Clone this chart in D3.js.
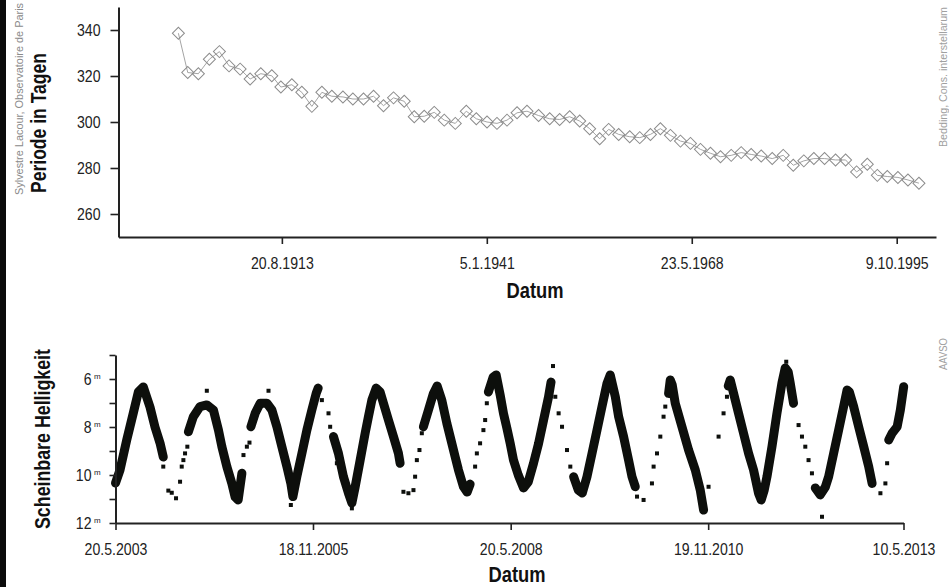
<!DOCTYPE html>
<html>
<head>
<meta charset="utf-8">
<script src="https://cdn.jsdelivr.net/npm/d3@7"></script>
<style>
  body { margin: 0; background: #fff; }
  svg text { font-family: 'Liberation Sans', Arial, sans-serif; }
</style>
</head>
<body>
<div id="chart"></div>
<script>
// --- Periode (oben) ---
const periodYears = [1899.81, 1901.06, 1902.48, 1903.95, 1905.29, 1906.58, 1908.06, 1909.39, 1910.82, 1912.29,
  1913.50, 1914.97, 1916.30, 1917.64, 1918.98, 1920.31, 1921.79, 1923.12, 1924.54, 1925.88,
  1927.21, 1928.55, 1929.98, 1931.32, 1932.65, 1933.99, 1935.33, 1936.80, 1938.27, 1939.61,
  1941.04, 1942.37, 1943.71, 1945.05, 1946.38, 1947.93, 1949.41, 1950.74, 1952.08, 1953.42,
  1954.75, 1956.09, 1957.29, 1958.63, 1960.10, 1961.44, 1962.87, 1964.20, 1965.54, 1966.88,
  1968.22, 1969.55, 1970.89, 1972.23, 1973.66, 1974.99, 1976.33, 1977.67, 1979.14, 1980.61,
  1981.95, 1983.36, 1984.70, 1986.13, 1987.60, 1988.94, 1990.41, 1991.84, 1993.18, 1994.51,
  1995.93, 1997.27, 1998.74];
const periodDays = [338.6, 321.5, 321, 327.3, 330.6, 324.4, 323, 318.7, 321, 320.1,
  315.2, 316.2, 312.9, 306.8, 312.9, 311.2, 310.9, 310, 310, 311.2,
  307.1, 310.5, 309, 302.3, 302.5, 304.2, 300.8, 299.4, 304.7, 301.4,
  300, 299.4, 300.8, 304, 304.7, 302.8, 301.4, 301.1, 302.3, 300.4,
  297.1, 292.7, 296.8, 294.6, 293.6, 293.2, 294.6, 297.1, 294.2, 291.7,
  290.7, 288.1, 286.4, 284.9, 285.5, 286.7, 285.9, 285.2, 284.1, 285.5,
  281.2, 283.1, 284.1, 284.1, 283.5, 283.5, 278.3, 281.6, 276.8, 276.3,
  275.9, 274.8, 273.4];
const periodTicks = [260, 280, 300, 320, 340];
const periodDateTicks = [[1913, 8, 20], [1941, 1, 5], [1968, 5, 23], [1995, 10, 9]];

// --- Helligkeit (unten): dichte Beobachtungsbaender [Jahr, mag] ---
const runA = [[2003.381, 10.33], [2003.438, 9.79], [2003.523, 8.54], [2003.606, 7.42], [2003.670, 6.54],
  [2003.733, 6.33], [2003.818, 7.17], [2003.881, 8.0], [2003.945, 8.67], [2003.986, 9.25]];
const runB = [[2004.303, 8.20], [2004.366, 7.57], [2004.451, 7.15], [2004.536, 7.08], [2004.619, 7.29],
  [2004.683, 8.13], [2004.726, 8.82], [2004.789, 9.65], [2004.852, 10.35], [2004.894, 10.92],
  [2004.932, 11.04], [2004.979, 9.93]];
const runC = [[2005.093, 7.99], [2005.147, 7.43], [2005.211, 7.01], [2005.296, 7.01], [2005.359, 7.29],
  [2005.422, 7.99], [2005.485, 8.82], [2005.549, 9.65], [2005.599, 10.35], [2005.625, 10.90],
  [2005.675, 10.07], [2005.739, 9.10], [2005.802, 8.13], [2005.865, 7.29], [2005.920, 6.60], [2005.945, 6.38]];
const runD = [[2006.139, 8.40], [2006.202, 9.10], [2006.265, 10.07], [2006.329, 10.76], [2006.372, 11.17],
  [2006.414, 10.49], [2006.477, 9.38], [2006.540, 8.26], [2006.582, 7.57], [2006.625, 6.88],
  [2006.680, 6.38], [2006.730, 6.54], [2006.772, 7.01], [2006.835, 7.71], [2006.899, 8.40],
  [2006.962, 9.10], [2006.983, 9.51]];
const runE = [[2007.278, 7.99], [2007.342, 7.29], [2007.405, 6.60], [2007.452, 6.29], [2007.511, 6.88],
  [2007.575, 7.85], [2007.638, 8.68], [2007.680, 9.24], [2007.722, 9.79], [2007.785, 10.49],
  [2007.832, 10.71], [2007.870, 10.38]];
const runF = [[2008.101, 6.54], [2008.161, 5.92], [2008.199, 5.83], [2008.250, 6.67], [2008.291, 7.43],
  [2008.334, 8.04], [2008.376, 8.68], [2008.418, 9.38], [2008.478, 10.0], [2008.545, 10.54],
  [2008.604, 10.29], [2008.671, 9.51], [2008.735, 8.68], [2008.798, 7.71], [2008.861, 6.74], [2008.892, 6.13]];
const runG = [[2009.178, 10.07], [2009.237, 10.63], [2009.288, 10.75], [2009.347, 10.07], [2009.411, 9.10],
  [2009.474, 8.13], [2009.537, 7.15], [2009.601, 6.18], [2009.642, 5.83], [2009.706, 6.74],
  [2009.748, 7.57], [2009.811, 8.40], [2009.874, 9.38], [2009.917, 10.07], [2009.959, 10.49]];
const runH = [[2010.381, 6.60], [2010.402, 6.04], [2010.427, 6.25], [2010.465, 7.01], [2010.550, 7.99],
  [2010.634, 8.96], [2010.719, 9.79], [2010.782, 10.63], [2010.824, 11.46]];
const runI = [[2011.137, 6.29], [2011.162, 6.04], [2011.204, 6.60], [2011.267, 7.43], [2011.330, 8.26],
  [2011.394, 9.10], [2011.457, 9.79], [2011.520, 10.76], [2011.554, 11.04], [2011.592, 10.63],
  [2011.627, 10.07], [2011.690, 8.82], [2011.753, 7.43], [2011.816, 6.18], [2011.858, 5.54],
  [2011.896, 5.71], [2011.922, 6.18], [2011.963, 7.01]];
const runJ = [[2012.238, 10.54], [2012.301, 10.83], [2012.365, 10.50], [2012.407, 10.07], [2012.470, 9.10],
  [2012.533, 8.13], [2012.596, 7.15], [2012.640, 6.46], [2012.669, 6.54], [2012.723, 7.15],
  [2012.786, 7.99], [2012.850, 8.82], [2012.913, 9.65], [2012.956, 10.35]];
const runK = [[2013.166, 8.54], [2013.209, 8.26], [2013.273, 7.99], [2013.314, 7.29], [2013.356, 6.32]];
const denseRuns = [runA, runB, runC, runD, runE, runF, runG, runH, runI, runJ, runK];

// einzelne Beobachtungen
const singleObs = [[2003.986, 9.65], [2004.050, 10.65], [2004.093, 10.74], [2004.147, 10.97],
  [2004.198, 10.28], [2004.219, 9.65], [2004.240, 9.38], [2004.261, 9.10], [2004.290, 8.82],
  [2004.536, 6.49], [2004.999, 9.17], [2005.042, 8.82], [2005.075, 8.65],
  [2005.316, 6.49], [2005.599, 11.25], [2005.992, 6.88], [2006.076, 7.43], [2006.097, 7.99],
  [2006.372, 11.39], [2006.182, 9.51],
  [2007.025, 10.70], [2007.088, 10.76], [2007.152, 10.63], [2007.173, 10.07], [2007.195, 9.38],
  [2007.228, 8.96], [2007.258, 8.26],
  [2007.933, 9.65], [2007.955, 9.10], [2007.996, 8.68], [2008.038, 8.13], [2008.060, 7.71], [2008.081, 7.01],
  [2008.917, 5.46], [2008.946, 6.74], [2008.988, 7.43], [2009.031, 7.99], [2009.094, 8.96], [2009.136, 9.65],
  [2009.981, 10.90], [2010.064, 11.04], [2010.170, 10.35], [2010.191, 9.65], [2010.234, 9.10],
  [2010.276, 8.40], [2010.317, 7.57], [2010.339, 7.15],
  [2010.887, 10.49], [2011.014, 8.40], [2011.077, 7.43], [2011.120, 6.74],
  [2011.871, 5.28], [2012.027, 7.92], [2012.070, 8.40], [2012.112, 8.82], [2012.153, 9.38],
  [2012.196, 9.93], [2012.323, 11.74],
  [2013.061, 10.76], [2013.124, 10.35], [2013.146, 9.51]];
const magTicks = [5, 6, 7, 8, 9, 10, 11, 12];
const magDateTicks = [[2003, 5, 20], [2005, 11, 18], [2008, 5, 20], [2010, 11, 19], [2013, 5, 10]];

// ------------------------------------------------------------
const W = 949, H = 587;
const svg = d3.select('#chart').append('svg')
  .attr('width', W).attr('height', H)
  .style('background', '#fff');

const toDate = a => new Date(a[0], a[1] - 1, a[2]);
const fromYear = y => {
  const yr = Math.floor(y);
  const s = new Date(yr, 0, 1), e = new Date(yr + 1, 0, 1);
  return new Date(+s + (y - yr) * (e - s));
};
const fmtDate = d => `${d.getDate()}.${d.getMonth() + 1}.${d.getFullYear()}`;

// schmale Schrift nachbilden (kein Condensed-Font installiert)
function narrow(sel, f) {
  sel.each(function () {
    const len = this.getComputedTextLength();
    if (len > 0) d3.select(this).attr('textLength', len * f).attr('lengthAdjust', 'spacingAndGlyphs');
  });
}

function styleAxis(g) {
  g.select('.domain').attr('stroke', '#222').attr('stroke-width', 2);
  g.selectAll('.tick line').attr('stroke', '#222').attr('stroke-width', 1.6);
  g.selectAll('.tick text').attr('font-size', 17).attr('fill', '#222')
    .style('font-family', "'Liberation Sans', Arial, sans-serif");
}

function title(x, y, rot, len, txt) {
  svg.append('text')
    .attr('transform', `translate(${x},${y}) rotate(${rot})`)
    .attr('text-anchor', 'middle').attr('font-size', 22).attr('font-weight', 'bold').attr('fill', '#111')
    .attr('textLength', len).attr('lengthAdjust', 'spacingAndGlyphs')
    .text(txt);
}

// Rand links
svg.append('rect').attr('x', 0).attr('y', 0).attr('width', 6).attr('height', H).attr('fill', '#0b0b0b');

// ---------------- oberes Diagramm ----------------
const t0 = toDate(periodDateTicks[0]), t3 = toDate(periodDateTicks[3]);
const xTop = d3.scaleTime()
  .domain([d3.timeDay.offset(t0, -7971), d3.timeDay.offset(t3, 1917)])
  .range([118.5, 936]);
const yTop = d3.scaleLinear().domain([250, 350]).range([237, 7]);

const periodData = d3.zip(periodYears, periodDays);
svg.append('path')
  .datum(periodData)
  .attr('fill', 'none').attr('stroke', '#9a9a9a').attr('stroke-width', 0.9)
  .attr('d', d3.line().x(d => xTop(fromYear(d[0]))).y(d => yTop(d[1])));

const diamond = d3.symbol(d3.symbolSquare, 72);
svg.append('g').selectAll('path')
  .data(periodData).join('path')
  .attr('d', diamond)
  .attr('transform', d => `translate(${xTop(fromYear(d[0]))},${yTop(d[1])}) rotate(45)`)
  .attr('fill', 'none').attr('stroke', '#8c8c8c').attr('stroke-width', 1);

const xAxTop = svg.append('g').attr('transform', 'translate(0,237)')
  .call(d3.axisBottom(xTop).tickValues(periodDateTicks.map(toDate)).tickFormat(fmtDate)
    .tickSize(7).tickPadding(13).tickSizeOuter(0))
  .call(styleAxis);
const yAxTop = svg.append('g').attr('transform', 'translate(118.5,0)')
  .call(d3.axisLeft(yTop).tickValues(periodTicks).tickSize(8).tickPadding(10).tickSizeOuter(0))
  .call(styleAxis);

title(46, 123, -90, 140, 'Periode in Tagen');
title(535, 298, 0, 57, 'Datum');

// ---------------- unteres Diagramm ----------------
const xBot = d3.scaleTime()
  .domain([toDate(magDateTicks[0]), toDate(magDateTicks[magDateTicks.length - 1])])
  .range([115.5, 903.5]);
const yBot = d3.scaleLinear().domain([5, 12]).range([355, 523]);

const denseLine = d3.line().x(d => xBot(fromYear(d[0]))).y(d => yBot(d[1]));
svg.append('g').selectAll('path')
  .data(denseRuns).join('path')
  .attr('d', denseLine)
  .attr('fill', 'none').attr('stroke', '#0d0f0c').attr('stroke-width', 9)
  .attr('stroke-linejoin', 'round').attr('stroke-linecap', 'round');

svg.append('g').selectAll('rect')
  .data(singleObs).join('rect')
  .attr('x', d => xBot(fromYear(d[0])) - 2)
  .attr('y', d => yBot(d[1]) - 2)
  .attr('width', 4).attr('height', 4)
  .attr('fill', '#0d0f0c');

const xAxBot = svg.append('g').attr('transform', 'translate(0,523)')
  .call(d3.axisBottom(xBot).tickValues(magDateTicks.map(toDate)).tickFormat(fmtDate)
    .tickSize(7).tickPadding(13).tickSizeOuter(0))
  .call(styleAxis);
const yAxBot = svg.append('g').attr('transform', 'translate(115.5,0)')
  .call(d3.axisLeft(yBot).tickValues(magTicks).tickFormat(d => d % 2 === 0 ? d : '')
    .tickSize(6).tickPadding(18).tickSizeOuter(0))
  .call(styleAxis);

[xAxTop, yAxTop, xAxBot, yAxBot].forEach(g => narrow(g.selectAll('.tick text'), 0.83));

// hochgestelltes "m" als eigener Text neben der Zahl
yAxBot.selectAll('.tick').filter(d => d % 2 === 0)
  .append('text')
  .attr('x', -21.5).attr('y', -1)
  .attr('font-size', 8).attr('fill', '#222').attr('text-anchor', 'start')
  .text('m');

title(50, 439, -90, 180, 'Scheinbare Helligkeit');
title(517, 582, 0, 57, 'Datum');

// Bildnachweise
svg.append('text').attr('transform', 'translate(23,195) rotate(-90)')
  .attr('font-size', 11).attr('fill', '#8a8a8a')
  .attr('textLength', 192).attr('lengthAdjust', 'spacingAndGlyphs')
  .text('Sylvestre Lacour, Observatoire de Paris');
svg.append('text').attr('transform', 'translate(947,147) rotate(-90)')
  .attr('font-size', 11).attr('fill', '#a0a0a0')
  .attr('textLength', 140).attr('lengthAdjust', 'spacingAndGlyphs')
  .text('Bedding, Cons. interstellarum');
svg.append('text').attr('transform', 'translate(947,370) rotate(-90)')
  .attr('font-size', 11).attr('fill', '#a0a0a0')
  .attr('textLength', 32).attr('lengthAdjust', 'spacingAndGlyphs')
  .text('AAVSO');
</script>
</body>
</html>
